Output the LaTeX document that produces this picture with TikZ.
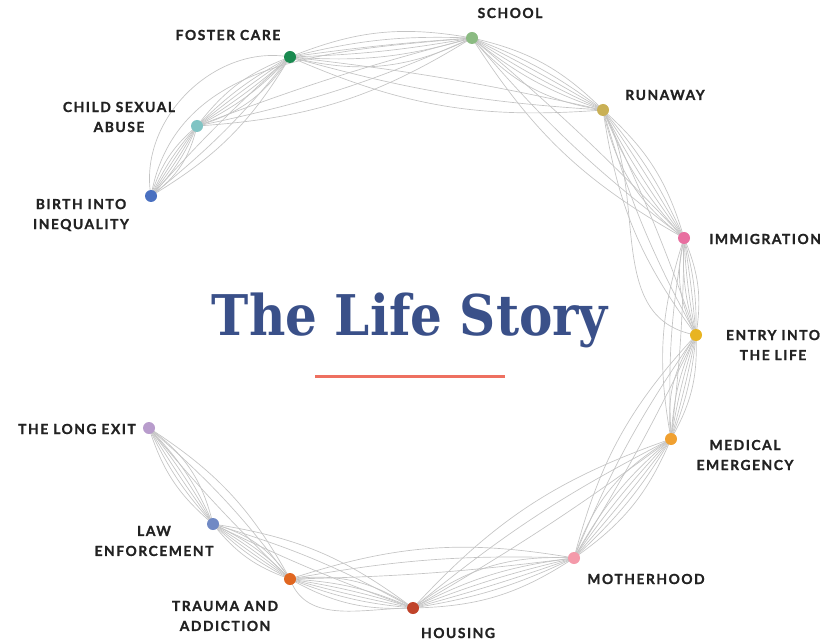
\documentclass[tikz,border=0pt]{standalone}
\usepackage{fontspec}
\setmainfont{Lato}
\newfontfamily\labfont[LetterSpace=11,FakeBold=1.2]{Lato Bold}
\newfontfamily\titlefont{DejaVu Serif}
\usetikzlibrary{backgrounds}
\definecolor{cFoster}{HTML}{1A8A50}
\definecolor{cSchool}{HTML}{8BBB82}
\definecolor{cRun}{HTML}{C9B055}
\definecolor{cImm}{HTML}{E86FA0}
\definecolor{cEntry}{HTML}{E8B422}
\definecolor{cMed}{HTML}{F0A030}
\definecolor{cMother}{HTML}{F49AAA}
\definecolor{cHouse}{HTML}{C0432A}
\definecolor{cTrauma}{HTML}{E06620}
\definecolor{cLaw}{HTML}{7089C4}
\definecolor{cExit}{HTML}{B89CCC}
\definecolor{cBirth}{HTML}{4A70C0}
\definecolor{cCSA}{HTML}{80C4C4}
\definecolor{cTitle}{HTML}{3A5089}
\definecolor{cLine}{HTML}{EE7060}
\definecolor{cLab}{HTML}{222222}
\definecolor{cLink}{HTML}{C4C4C4}
\tikzset{
  dot/.style={circle,fill=#1,inner sep=0pt,minimum size=9pt},
  lab/.style={font=\labfont\fontsize{10.4}{15}\selectfont,text=cLab,align=center,inner sep=0pt},
  link/.style={draw=cLink,line width=0.5pt},
}
\begin{document}
\begin{tikzpicture}[x=0.75pt,y=-0.75pt]
\useasboundingbox (0,0) rectangle (823,641);
% dots
\node[dot=cBirth] (birth) at (151,196) {};
\node[dot=cCSA] (csa) at (197,126) {};
\node[dot=cFoster] (foster) at (290,57) {};
\node[dot=cSchool] (school) at (472,38) {};
\node[dot=cRun] (run) at (603,110) {};
\node[dot=cImm] (imm) at (684,238) {};
\node[dot=cEntry] (entry) at (696,335) {};
\node[dot=cMed] (med) at (671,439) {};
\node[dot=cMother] (mother) at (574,558) {};
\node[dot=cHouse] (house) at (413,608) {};
\node[dot=cTrauma] (trauma) at (290,579) {};
\node[dot=cLaw] (law) at (213,524) {};
\node[dot=cExit] (exit) at (149,428) {};
% connectors
\begin{pgfonlayer}{background}
\foreach \a/\b in {birth/csa,csa/foster,foster/school,school/run,run/imm,imm/entry,entry/med,med/mother,mother/house,house/trauma,trauma/law,law/exit}{
  \foreach \k in {-20,-10,-4,2,8,16}
    \draw[link] (\a.center) to[bend left=\k] (\b.center);
}
\foreach \a/\b in {birth/foster,csa/school,foster/run,school/imm,run/entry,imm/med,entry/mother,med/house,mother/trauma,house/law,trauma/exit}{
  \foreach \k in {-14,-6,3}
    \draw[link] (\a.center) to[bend left=\k] (\b.center);
}
\draw[link] (birth.center) to[out=80,in=185] (school.center);
\draw[link] (birth.center) to[out=100,in=170] (foster.center);
\draw[link] (run.center) to[out=-60,in=170] (entry.center);
\draw[link] (trauma.center) to[out=-70,in=180] (house.center);
\end{pgfonlayer}
% labels
\node[lab] (lfoster) at (228,35) {FOSTER CARE};
\node[lab] (lschool) at (510,13) {SCHOOL};
\node[lab] (lrun) at (665,95) {RUNAWAY};
\node[lab,anchor=west] (limm) at (709,239) {IMMIGRATION};
\node[lab] (lentry) at (773,345) {ENTRY INTO\\THE LIFE};
\node[lab] (lmed) at (745,455) {MEDICAL\\EMERGENCY};
\node[lab] (lmother) at (646,579) {MOTHERHOOD};
\node[lab] (lhouse) at (458,633) {HOUSING};
\node[lab] (ltrauma) at (225,616) {TRAUMA AND\\ADDICTION};
\node[lab] (llaw) at (154,541) {LAW\\ENFORCEMENT};
\node[lab,anchor=east] (lexit) at (136,429) {THE LONG EXIT};
\node[lab] (lbirth) at (81,215) {BIRTH INTO\\INEQUALITY};
\node[lab] (lcsa) at (119,117) {CHILD SEXUAL\\ABUSE};
% title
\node[anchor=base,inner sep=0pt,text=cTitle] (title) at (410,335) {\scalebox{1}[1.12]{\resizebox{297pt}{!}{\titlefont\bfseries The Life Story}}};
\coordinate (ula) at (315,376);
\coordinate (ulb) at (505,376);
\draw[cLine,line width=2.25pt] (ula) -- (ulb);
\end{tikzpicture}
\end{document}
